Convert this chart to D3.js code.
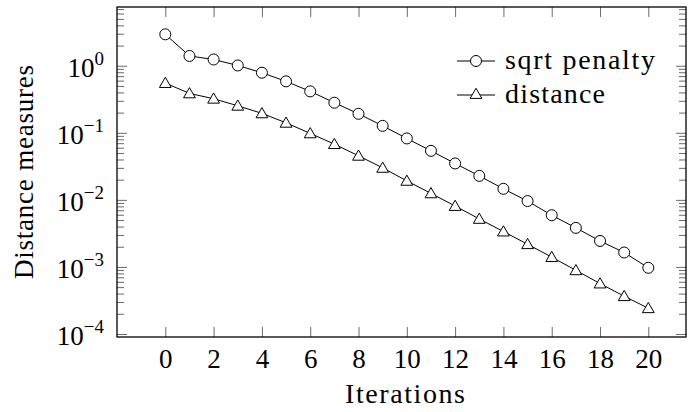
<!DOCTYPE html>
<html>
<head>
<meta charset="utf-8">
<script src="https://cdn.jsdelivr.net/npm/d3@7"></script>
<style>
  body { margin: 0; background: #fff; }
</style>
</head>
<body>
<svg width="688" height="412"></svg>
<script>
// data
const iterations = d3.range(0, 21);
const sqrtPenalty = [2.94, 1.40, 1.24, 1.01, 0.787, 0.585, 0.415, 0.281, 0.192, 0.127,
  0.0824, 0.0538, 0.0349, 0.0228, 0.0146, 0.0096, 0.0059, 0.00382, 0.00244, 0.00164, 0.00097];
const distance = [0.552, 0.387, 0.322, 0.253, 0.195, 0.141, 0.098, 0.0678, 0.0454, 0.030,
  0.0192, 0.0125, 0.0081, 0.0052, 0.00337, 0.00218, 0.0014, 0.00089, 0.000565, 0.000366, 0.000242];
const xTicks = [0, 2, 4, 6, 8, 10, 12, 14, 16, 18, 20];
const yExponents = [0, -1, -2, -3, -4];
const seriesNames = ['sqrt penalty', 'distance'];

const FONT = '"Liberation Serif", "Times New Roman", serif';
const svg = d3.select('svg');
const plotL = 117, plotR = 686, plotT = 7, plotB = 337;

const x = d3.scaleLinear().domain([-2, 21.56]).range([plotL, plotR]);
const y = d3.scaleLog().domain([Math.pow(10, -4.045), Math.pow(10, 0.876)]).range([plotB, plotT]);

// minor ticks 2..9 per decade
const minor = [];
for (let e = -5; e <= 0; e++) {
  for (let m = 2; m <= 9; m++) {
    const v = m * Math.pow(10, e);
    if (v > y.domain()[0] && v < y.domain()[1]) minor.push(v);
  }
}
const major = yExponents.map((e) => Math.pow(10, e));

const tickStyle = (g) => {
  g.select('.domain').remove();
  g.selectAll('.tick line').attr('stroke', '#444').attr('stroke-width', 0.8);
};

svg.append('g').attr('transform', `translate(0,${plotB})`)
  .call(d3.axisBottom(x).tickValues(xTicks).tickSize(-10).tickPadding(12))
  .call(tickStyle)
  .call((g) => g.selectAll('.tick text')
    .attr('font-size', 27).attr('font-family', FONT).attr('fill', '#000'));

svg.append('g').attr('transform', `translate(0,${plotT})`)
  .call(d3.axisTop(x).tickValues(xTicks).tickSize(-10).tickFormat(''))
  .call(tickStyle);

[[plotL, d3.axisLeft], [plotR, d3.axisRight]].forEach(([pos, axis]) => {
  svg.append('g').attr('transform', `translate(${pos},0)`)
    .call(axis(y).tickValues(major).tickSize(-10).tickFormat(''))
    .call(tickStyle);
  svg.append('g').attr('transform', `translate(${pos},0)`)
    .call(axis(y).tickValues(minor).tickSize(-7).tickFormat(''))
    .call(tickStyle);
});

// y tick labels 10^e
const ylab = svg.append('g').selectAll('text').data(yExponents).join('text')
  .attr('x', 104)
  .attr('y', (e) => y(Math.pow(10, e)) + 11)
  .attr('text-anchor', 'end')
  .attr('font-family', FONT)
  .attr('font-size', 27);
ylab.append('tspan').text('10');
ylab.append('tspan').attr('dy', -12).attr('font-size', 19)
  .text((e) => (e < 0 ? '\u2212' + (-e) : String(e)));

// frame
svg.append('rect')
  .attr('x', plotL).attr('y', plotT)
  .attr('width', plotR - plotL).attr('height', plotB - plotT)
  .attr('fill', 'none').attr('stroke', '#000').attr('stroke-width', 1.3);

const line = d3.line().x((d, i) => x(iterations[i])).y((d) => y(d));
const tri = d3.symbol().type(d3.symbolTriangle).size(60);

[sqrtPenalty, distance].forEach((s) => {
  svg.append('path').datum(s).attr('d', line)
    .attr('fill', 'none').attr('stroke', '#000').attr('stroke-width', 1);
});

svg.append('g').selectAll('circle').data(sqrtPenalty).join('circle')
  .attr('cx', (d, i) => x(iterations[i])).attr('cy', (d) => y(d)).attr('r', 5.5)
  .attr('fill', '#fff').attr('stroke', '#000').attr('stroke-width', 1);

svg.append('g').selectAll('path').data(distance).join('path')
  .attr('d', tri)
  .attr('transform', (d, i) => `translate(${x(iterations[i])},${y(d) + 1})`)
  .attr('fill', '#fff').attr('stroke', '#000').attr('stroke-width', 1);

// legend
const legendWidths = [150, 100];
const legend = svg.append('g');
seriesNames.forEach((name, i) => {
  const cy = 61 + i * 34;
  legend.append('line').attr('x1', 457).attr('x2', 495).attr('y1', cy).attr('y2', cy)
    .attr('stroke', '#000').attr('stroke-width', 1);
  if (i === 0) {
    legend.append('circle').attr('cx', 476).attr('cy', cy).attr('r', 5.5)
      .attr('fill', '#fff').attr('stroke', '#000');
  } else {
    legend.append('path').attr('d', tri).attr('transform', `translate(476,${cy})`)
      .attr('fill', '#fff').attr('stroke', '#000');
  }
  legend.append('text').attr('x', 505).attr('y', cy + 8)
    .attr('font-family', FONT).attr('font-size', 28)
    .attr('textLength', legendWidths[i]).attr('lengthAdjust', 'spacing')
    .text(name);
});

// axis titles
svg.append('text').attr('x', 405).attr('y', 403)
  .attr('text-anchor', 'middle').attr('font-family', FONT).attr('font-size', 28)
  .attr('textLength', 120).attr('lengthAdjust', 'spacing')
  .text('Iterations');
svg.append('text')
  .attr('transform', `translate(33,${(plotT + plotB) / 2}) rotate(-90)`)
  .attr('text-anchor', 'middle').attr('font-family', FONT).attr('font-size', 27)
  .attr('textLength', 214).attr('lengthAdjust', 'spacing')
  .text('Distance measures');
</script>
</body>
</html>
